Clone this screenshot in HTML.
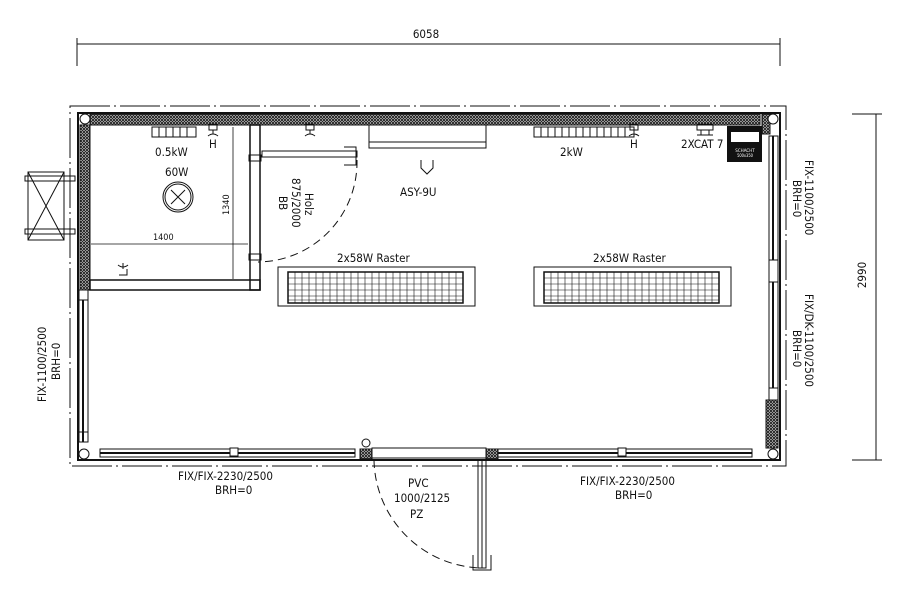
<!DOCTYPE html>
<html><head><meta charset="utf-8"><style>
html,body{margin:0;padding:0;background:#fff}
svg{display:block}
text{font-family:"DejaVu Sans Condensed","Liberation Sans",sans-serif;fill:#111}
</style></head><body>
<svg width="915" height="598" viewBox="0 0 915 598" xmlns="http://www.w3.org/2000/svg">
<defs>
<pattern id="h" width="3" height="3" patternUnits="userSpaceOnUse">
<rect width="3" height="3" fill="#fff"/>
<path d="M0 0L3 3M3 0L0 3" stroke="#222" stroke-width="1"/>
</pattern>
</defs>
<g stroke="#111" fill="none">
<line x1="77" y1="44" x2="780" y2="44" stroke-width="1"/>
<line x1="77" y1="38" x2="77" y2="66"/>
<line x1="780" y1="38" x2="780" y2="66"/>
<line x1="876" y1="114" x2="876" y2="460"/>
<line x1="852" y1="114" x2="882" y2="114"/>
<line x1="852" y1="460" x2="882" y2="460"/>
<rect x="70" y="106" width="716" height="360" stroke-width="1" stroke-dasharray="40,4,2,4"/>
<rect x="78" y="113" width="702" height="347" stroke-width="2"/>
</g>
<rect x="90" y="114" width="670" height="11" fill="url(#h)" stroke="#111" stroke-width="1"/>
<rect x="80" y="125" width="10" height="165" fill="url(#h)" stroke="#111" stroke-width="1"/>
<rect x="762" y="114" width="8" height="20" fill="url(#h)" stroke="#111"/>
<rect x="766" y="400" width="12" height="48" fill="url(#h)" stroke="#111"/>
<circle cx="85" cy="119" r="5" fill="#fff" stroke="#111"/>
<circle cx="773" cy="119" r="5" fill="#fff" stroke="#111"/>
<circle cx="84" cy="454" r="5" fill="#fff" stroke="#111"/>
<circle cx="773" cy="454" r="5" fill="#fff" stroke="#111"/>
<g stroke="#111" fill="none">
<rect x="79" y="300" width="9" height="142" stroke-width="1"/>
<line x1="83" y1="300" x2="83" y2="442" stroke-width="2"/>
<rect x="79" y="290" width="9" height="10"/>
<rect x="79" y="432" width="9" height="10"/>
<rect x="769" y="136" width="9" height="262"/>
<line x1="773" y1="136" x2="773" y2="398" stroke-width="2"/>
<rect x="769" y="260" width="9" height="22" fill="#fff"/>
<rect x="769" y="388" width="9" height="12" fill="#fff"/>
<rect x="100" y="449" width="255" height="8"/>
<line x1="100" y1="453" x2="355" y2="453" stroke-width="2"/>
<rect x="230" y="448" width="8" height="8" fill="#fff"/>
<rect x="490" y="449" width="262" height="8"/>
<line x1="490" y1="453" x2="752" y2="453" stroke-width="2"/>
<rect x="618" y="448" width="8" height="8" fill="#fff"/>
<rect x="360" y="449" width="12" height="10" fill="url(#h)"/>
<rect x="486" y="449" width="12" height="10" fill="url(#h)"/>
<rect x="372" y="448" width="114" height="10"/>
<path d="M374 460 A110 110 0 0 0 482 568" stroke-dasharray="8,5"/>
<rect x="478" y="460" width="8" height="108"/>
<line x1="482" y1="460" x2="482" y2="568"/>
<path d="M473 555v15h18v-15"/>
<circle cx="366" cy="443" r="4"/>
<rect x="250" y="125" width="10" height="165" stroke-width="1.5"/>
<rect x="90" y="280" width="170" height="10" stroke-width="1.5"/>
<rect x="249" y="155" width="12" height="6"/>
<rect x="249" y="254" width="12" height="6"/>
<rect x="262" y="151" width="95" height="6"/>
<path d="M344 147h12v18h-12"/>
<path d="M357 160 A100 100 0 0 1 258 262" stroke-dasharray="8,5"/>
<line x1="91" y1="244" x2="248" y2="244" stroke-width="0.8"/>
<line x1="233" y1="127" x2="233" y2="279" stroke-width="0.8"/>
<circle cx="178" cy="197" r="15"/>
<circle cx="178" cy="197" r="13"/>
<path d="M171 190l14 14M185 190l-14 14"/>
<rect x="152" y="127" width="44" height="10"/>
<path d="M159 127v10M166 127v10M173 127v10M180 127v10M187 127v10"/>
<rect x="534" y="127" width="100" height="10"/>
<path d="M541 127v10M548 127v10M555 127v10M562 127v10M569 127v10M576 127v10M583 127v10M590 127v10M597 127v10M604 127v10M611 127v10M618 127v10M625 127v10"/>
<rect x="369" y="125" width="117" height="23"/>
<line x1="369" y1="142" x2="486" y2="142"/>
<path d="M421 160v8l6 6 6-6v-8" />
<path d="M209 124h8v6h-8zM213 130v4M208 136q5-4 10 0"/>
<path d="M306 124h8v6h-8zM310 130v4M305 136q5-4 10 0"/>
<path d="M630 124h8v6h-8zM634 130v4M629 136q5-4 10 0"/>
<path d="M697 124h16v6h-16zM701 130v5M709 130v5M697 135h16"/>
<path d="M119 275h8v-6M123 269v-6M118 265q5 4 10 0"/>
<rect x="278" y="267" width="197" height="39"/>
<rect x="288" y="272" width="175" height="31" stroke-width="1.5"/>
<rect x="534" y="267" width="197" height="39"/>
<rect x="544" y="272" width="175" height="31" stroke-width="1.5"/>
<rect x="28" y="172" width="36" height="68"/>
<path d="M28 172l36 68M64 172l-36 68"/>
<rect x="25" y="176" width="50" height="5"/>
<rect x="25" y="229" width="50" height="5"/>
</g>
<g stroke="#111" stroke-width="0.6">
<path d="M288 278h175M288 284h175M288 290h175M288 296h175M288 300h175M544 278h175M544 284h175M544 290h175M544 296h175M544 300h175"/>
<path d="M295 272v31M302 272v31M309 272v31M316 272v31M323 272v31M330 272v31M337 272v31M344 272v31M351 272v31M358 272v31M365 272v31M372 272v31M379 272v31M386 272v31M393 272v31M400 272v31M407 272v31M414 272v31M421 272v31M428 272v31M435 272v31M442 272v31M449 272v31M456 272v31"/>
<path d="M551 272v31M558 272v31M565 272v31M572 272v31M579 272v31M586 272v31M593 272v31M600 272v31M607 272v31M614 272v31M621 272v31M628 272v31M635 272v31M642 272v31M649 272v31M656 272v31M663 272v31M670 272v31M677 272v31M684 272v31M691 272v31M698 272v31M705 272v31M712 272v31"/>
</g>
<polygon points="727,126 762,126 762,162 727,162" fill="#111"/>
<rect x="731" y="132" width="28" height="10" fill="#fff"/>
<text x="745" y="152" font-size="4.5" style="fill:#fff" text-anchor="middle">SCHACHT</text>
<text x="745" y="157" font-size="4" style="fill:#fff" text-anchor="middle">500x350</text>
<g font-size="11.5">
<text x="426" y="38" text-anchor="middle">6058</text>
<text x="155" y="156">0.5kW</text>
<text x="209" y="148">H</text>
<text x="165" y="176">60W</text>
<text x="630" y="148">H</text>
<text x="560" y="156">2kW</text>
<text x="681" y="148">2XCAT 7</text>
<text x="400" y="196">ASY-9U</text>
<text x="337" y="262">2x58W Raster</text>
<text x="593" y="262">2x58W Raster</text>
<text x="178" y="480">FIX/FIX-2230/2500</text>
<text x="215" y="494">BRH=0</text>
<text x="580" y="485">FIX/FIX-2230/2500</text>
<text x="615" y="499">BRH=0</text>
<text x="408" y="487">PVC</text>
<text x="394" y="502">1000/2125</text>
<text x="410" y="518">PZ</text>
</g>
<text x="153" y="240" font-size="9">1400</text>
<text font-size="9" transform="translate(229,215) rotate(-90)">1340</text>
<g font-size="11.5">
<text transform="translate(866,275) rotate(-90)" text-anchor="middle">2990</text>
<text transform="translate(305,193) rotate(90)">Holz</text>
<text transform="translate(292,178) rotate(90)">875/2000</text>
<text transform="translate(279,196) rotate(90)">BB</text>
<text transform="translate(805,160) rotate(90)">FIX-1100/2500</text>
<text transform="translate(793,180) rotate(90)">BRH=0</text>
<text transform="translate(805,294) rotate(90)">FIX/DK-1100/2500</text>
<text transform="translate(793,330) rotate(90)">BRH=0</text>
<text transform="translate(46,402) rotate(-90)">FIX-1100/2500</text>
<text transform="translate(60,380) rotate(-90)">BRH=0</text>
</g>
</svg>
</body></html>
